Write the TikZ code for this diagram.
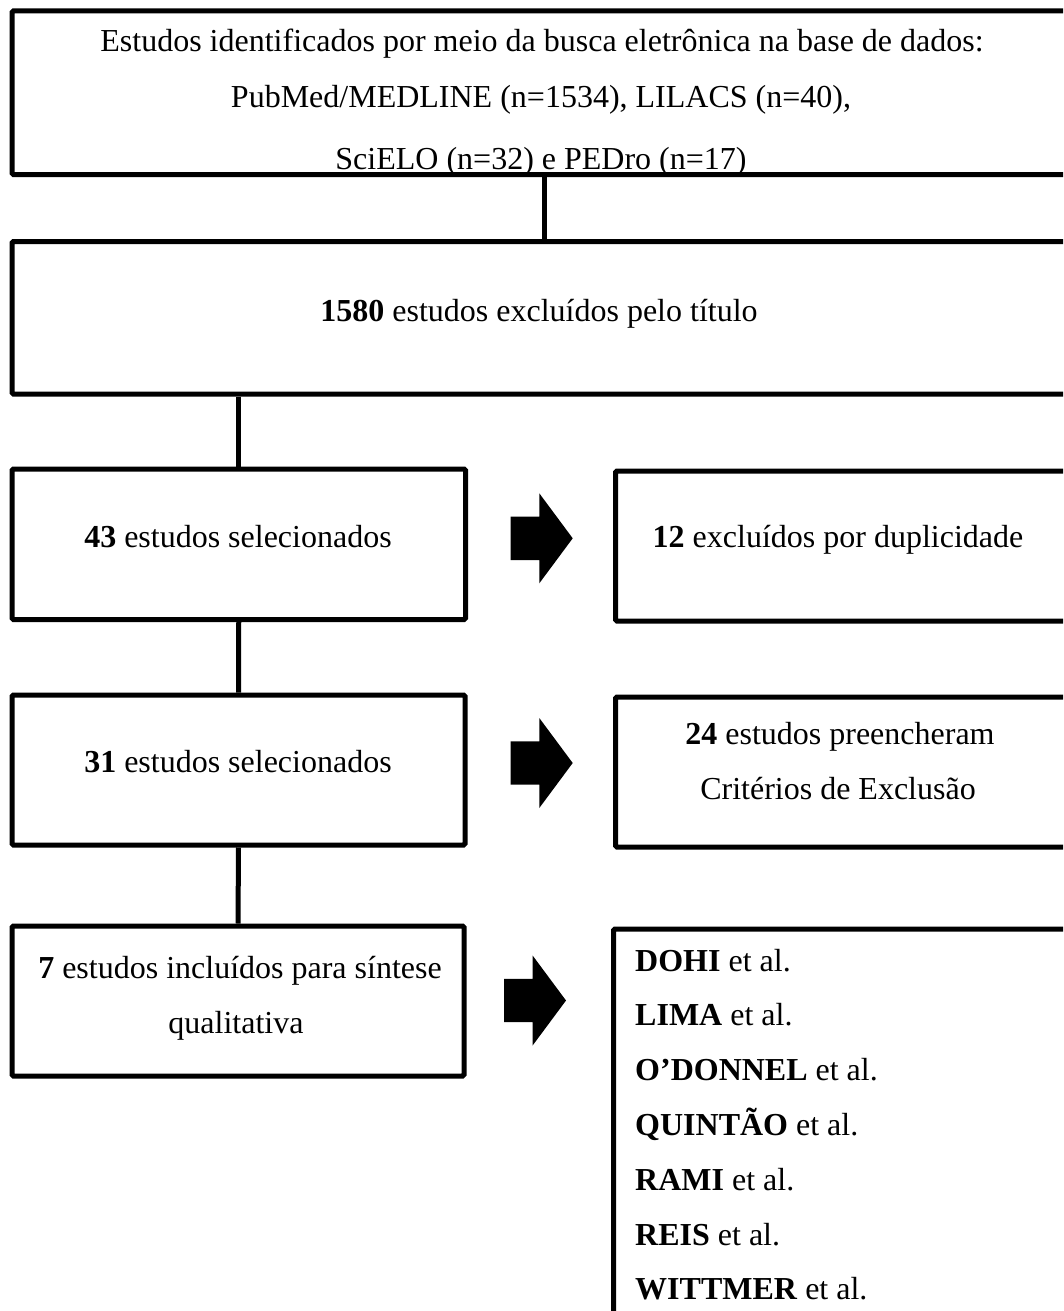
\documentclass[tikz,border=0pt]{standalone}
\usepackage{fontspec}
\setmainfont{Liberation Serif}
\begin{document}
\begin{tikzpicture}[x=1pt,y=-1pt,
  box/.style={draw=black, line width=5pt, rounded corners=1.5pt, inner sep=0pt},
  conn/.style={draw=black, line width=5pt},
  txt/.style={font=\fontsize{32}{38}\selectfont, inner sep=0pt, anchor=base},
  ltxt/.style={txt, anchor=base west},
  blockarr/.pic={\fill[black] (-31,-21.7) -- (-2.4,-21.7) -- (-2.4,-45) -- (31,0) -- (-2.4,45) -- (-2.4,21.7) -- (-31,21.7) -- cycle;}]
\useasboundingbox (0,0) rectangle (1063,1311);
\clip (0,0) rectangle (1063,1311);
% texts
\node[txt] (t1a) at (542,52) {Estudos identificados por meio da busca eletrônica na base de dados:};
\node[txt] (t1b) at (541,107.5) {PubMed/MEDLINE (n=1534), LILACS (n=40),};
\node[txt] (t1c) at (541,169) {SciELO (n=32) e PEDro (n=17)};
\node[txt] (t2) at (539,321) {\textbf{1580} estudos excluídos pelo título};
\node[txt] (t3l) at (238,547) {\textbf{43} estudos selecionados};
\node[txt] (t3r) at (838,547) {\textbf{12} excluídos por duplicidade};
\node[txt] (t4l) at (238,772) {\textbf{31} estudos selecionados};
\node[txt] (t4ra) at (840,744.5) {\textbf{24} estudos preencheram};
\node[txt] (t4rb) at (838,799.5) {Critérios de Exclusão};
\node[txt] (t5la) at (240,978) {\textbf{7} estudos incluídos para síntese};
\node[txt] (t5lb) at (236,1033) {qualitativa};
\node[ltxt] (r1) at (635,971) {\textbf{DOHI} et al.};
\node[ltxt] (r2) at (635,1025.8) {\textbf{LIMA} et al.};
\node[ltxt] (r3) at (635,1080.6) {\textbf{O’DONNEL} et al.};
\node[ltxt] (r4) at (635,1135.4) {\textbf{QUINTÃO} et al.};
\node[ltxt] (r5) at (635,1190.2) {\textbf{RAMI} et al.};
\node[ltxt] (r6) at (635,1245) {\textbf{REIS} et al.};
\node[ltxt] (r7) at (635,1299.8) {\textbf{WITTMER} et al.};
% boxes
\node[box, minimum width=1065pt, minimum height=163.5pt] (top) at (544.5,92.75) {};
\node[box, minimum width=1065pt, minimum height=152.5pt] (box2) at (544.5,317.75) {};
\node[box, minimum width=453.5pt, minimum height=150.5pt] (box3L) at (238.75,544.25) {};
\node[box, minimum width=461.5pt, minimum height=150pt] (box3R) at (846.25,546) {};
\node[box, minimum width=453pt, minimum height=150pt] (box4L) at (238.5,770) {};
\node[box, minimum width=461.5pt, minimum height=150pt] (box4R) at (846.25,772) {};
\node[box, minimum width=452pt, minimum height=150pt] (box5L) at (238,1001) {};
\node[box, minimum width=463.5pt, minimum height=411pt] (box5R) at (845.25,1134.5) {};
% connectors
\draw[conn] (top.south) -- (box2.north);
\draw[conn] (box2.south -| box3L.north) -- (box3L.north);
\draw[conn] (box3L.south) -- (box4L.north);
\draw[conn] (box4L.south) -- (box5L.north);
% block arrows
\pic (ar1) at (541.7,538.3) {blockarr};
\pic (ar2) at (541.7,763) {blockarr};
\pic (ar3) at (535,1000.5) {blockarr};
\end{tikzpicture}
\end{document}
